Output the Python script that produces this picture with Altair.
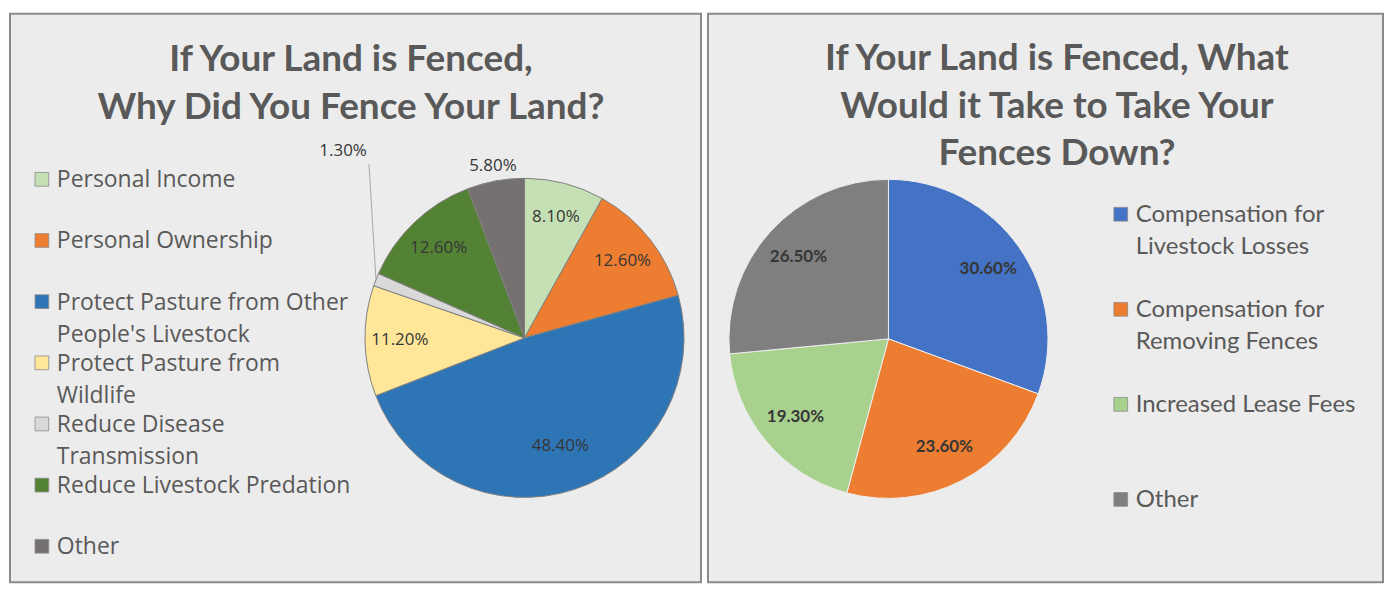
import altair as alt
import pandas as pd

# ---------------- data ----------------
TITLE1 = ["If Your Land is Fenced,", "Why Did You Fence Your Land?"]
CATS1 = [
    "Personal Income",
    "Personal Ownership",
    "Protect Pasture from Other People's Livestock",
    "Protect Pasture from Wildlife",
    "Reduce Disease Transmission",
    "Reduce Livestock Predation",
    "Other",
]
LINES1 = [
    ["Personal Income"],
    ["Personal Ownership"],
    ["Protect Pasture from Other", "People's Livestock"],
    ["Protect Pasture from", "Wildlife"],
    ["Reduce Disease", "Transmission"],
    ["Reduce Livestock Predation"],
    ["Other"],
]
VALS1 = [8.1, 12.6, 48.4, 11.2, 1.3, 12.6, 5.8]
COLORS1 = ["#c5e0b4", "#ed7d31", "#2e75b6", "#ffe699", "#d9d9d9", "#548235", "#767171"]

TITLE2 = ["If Your Land is Fenced, What", "Would it Take to Take Your", "Fences Down?"]
CATS2 = [
    "Compensation for Livestock Losses",
    "Compensation for Removing Fences",
    "Increased Lease Fees",
    "Other",
]
LINES2 = [
    ["Compensation for", "Livestock Losses"],
    ["Compensation for", "Removing Fences"],
    ["Increased Lease Fees"],
    ["Other"],
]
VALS2 = [30.6, 23.6, 19.3, 26.5]
COLORS2 = ["#4472c4", "#ed7d31", "#a9d18e", "#7f7f7f"]

TEXT_GREY = "#595959"


def make_panel(cats, lines, vals, colors, title, W, H, cx, cy, r,
               tx, ty, sq_x, txt_x, leg_range, leg_font, leg_size,
               arc_stroke, lab_font, lab_size, lab_weight, radius_expr,
               dx_expr, dy_expr, leader=False):
    df = pd.DataFrame({"category": cats, "value": vals,
                       "idx": list(range(len(cats))), "lines": lines})
    base = alt.Chart(df)
    color = alt.Color("category:N", scale=alt.Scale(domain=cats, range=colors), legend=None)

    arcs = base.mark_arc(radius=r, stroke=arc_stroke, strokeWidth=1).encode(
        theta=alt.Theta("value:Q", stack=True),
        order=alt.Order("idx:Q"),
        color=color,
        x=alt.value(cx),
        y=alt.value(cy),
    )

    geo = base.transform_window(
        cum="sum(value)", sort=[alt.SortField("idx")], frame=[None, 0]
    ).transform_joinaggregate(
        total="sum(value)"
    ).transform_calculate(
        mid="2*PI*(datum.cum - datum.value/2)/datum.total",
        rr=radius_expr,
        label="format(datum.value, '.2f') + '%'",
    ).transform_calculate(
        lx=f"{cx} + datum.rr*sin(datum.mid) + ({dx_expr})",
        ly=f"{cy} - datum.rr*cos(datum.mid) + ({dy_expr})",
        ex=f"{cx} + {r}*sin(datum.mid)",
        ey=f"{cy} - {r}*cos(datum.mid)",
    )

    labels = geo.mark_text(font=lab_font, fontSize=lab_size, fontWeight=lab_weight,
                           color="#363636", baseline="middle", align="center").encode(
        x=alt.X("lx:Q", scale=None, axis=None),
        y=alt.Y("ly:Q", scale=None, axis=None),
        text=alt.Text("label:N"),
    )

    layers = [arcs, labels]

    if leader:
        lead = geo.transform_filter("datum.value < 2").transform_calculate(
            ex2="datum.ex - 7", ey2="datum.ey - 116"
        ).mark_rule(color="#a6a6a6", strokeWidth=1).encode(
            x=alt.X("ex:Q", scale=None, axis=None),
            y=alt.Y("ey:Q", scale=None, axis=None),
            x2="ex2:Q",
            y2="ey2:Q",
        )
        layers.append(lead)

    leg_y = alt.Y("category:N", sort=cats,
                  scale=alt.Scale(type="point", range=leg_range, padding=0), axis=None)
    squares = base.mark_square(size=190, opacity=1, stroke="#8c8c8c", strokeWidth=0.8).encode(
        x=alt.value(sq_x), y=leg_y, color=color,
    )
    texts = base.mark_text(align="left", baseline="top", dy=-round(leg_size * 0.44),
                           font=leg_font, fontSize=leg_size, lineHeight=32,
                           color=TEXT_GREY).encode(
        x=alt.value(txt_x), y=leg_y, text=alt.Text("lines:N"),
    )
    layers += [squares, texts]

    ttl = alt.Chart(alt.Data(values=[{"t": 1}])).mark_text(
        font="Lato", fontWeight="bold", fontSize=37, lineHeight=48,
        align="center", baseline="top", color=TEXT_GREY,
    ).encode(x=alt.value(tx), y=alt.value(ty), text=alt.value(title))
    layers.append(ttl)

    return alt.layer(*layers).resolve_scale(
        x="independent", y="independent", color="independent"
    ).properties(width=W, height=H)


p1 = make_panel(CATS1, LINES1, VALS1, COLORS1, TITLE1, 693, 570, 516, 325, 160,
                342, 28, 32, 47, [166, 534], "Open Sans", 23,
                "#7f7f7f", "Open Sans", 17, "normal",
                "datum.value < 2 ? 160 : (datum.value < 7 ? 175 : (datum.value > 40 ? 114 : 125))",
                "datum.value < 2 ? -33 : 0", "datum.value < 2 ? -129 : 0",
                leader=True)

p2 = make_panel(CATS2, LINES2, VALS2, COLORS2, TITLE2, 677, 570, 181, 326, 160,
                350, 27, 414, 429, [201, 487], "Lato", 24,
                "#eeeeee", "Lato", 17, "bold",
                "122", "0", "0")

chart = alt.hconcat(p1, p2, spacing=5).resolve_scale(color="independent").properties(
    padding={"left": 1, "top": 4, "right": 0, "bottom": 0},
    background="#ffffff",
).configure_view(fill="#ececec", stroke="#8a8a8a", strokeWidth=2)

chart.save("out.html", embed_options={"renderer": "svg", "actions": False})
